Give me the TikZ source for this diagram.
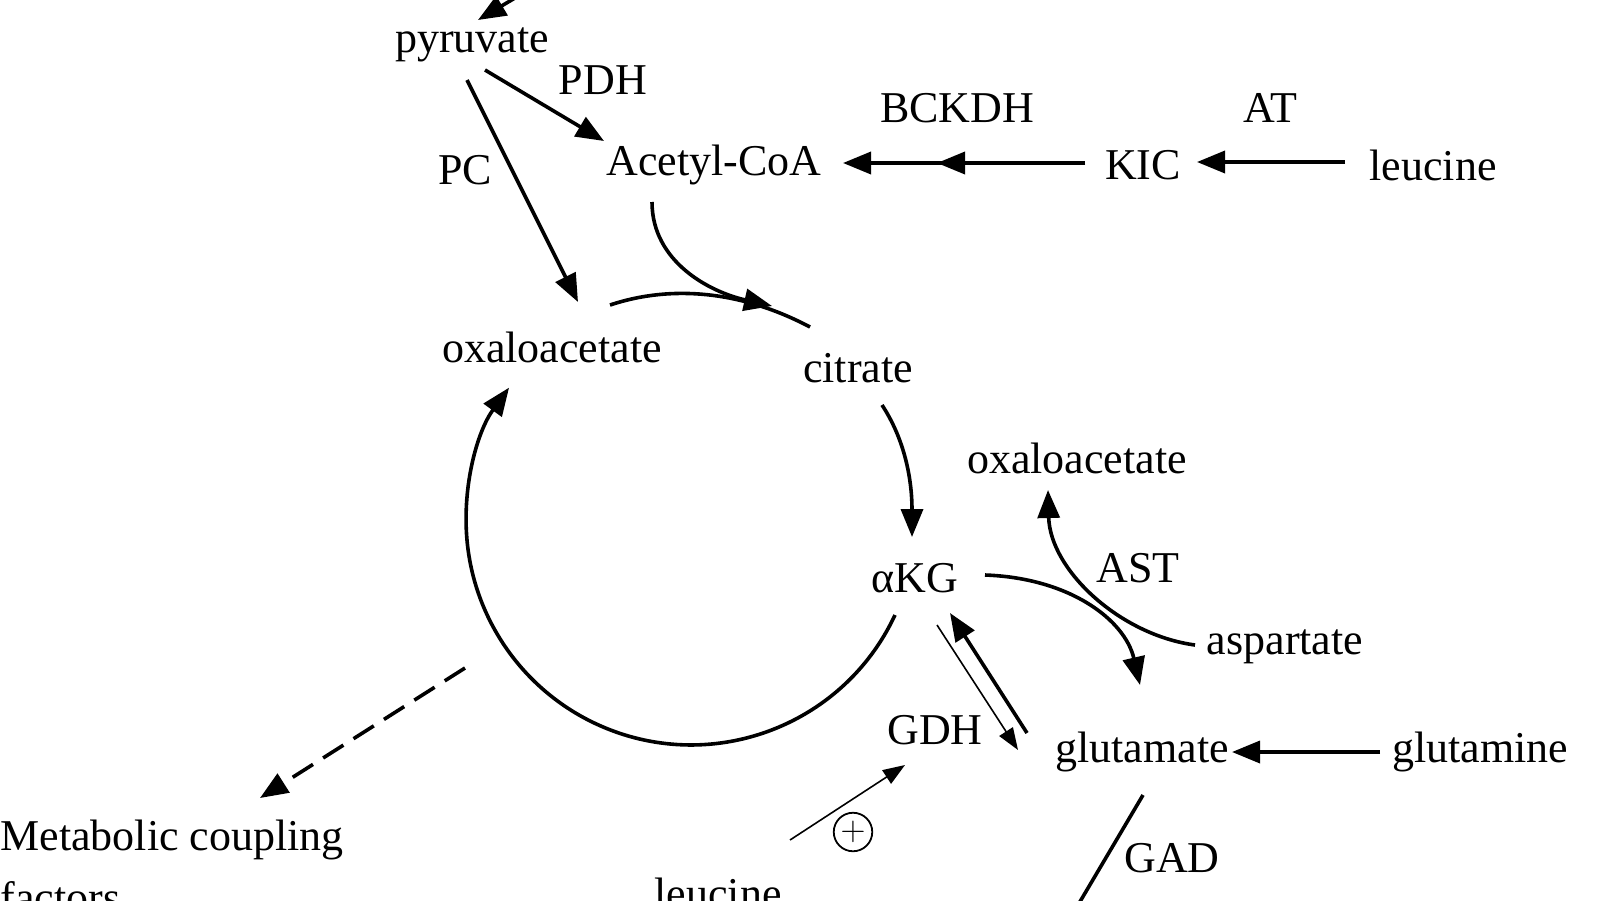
\documentclass[tikz,border=0pt]{standalone}
\usepackage{fontspec}
\setmainfont{Liberation Serif}
\usetikzlibrary{arrows.meta,decorations.markings}
\begin{document}
\begin{tikzpicture}[x=0.5pt,y=-0.5pt,
  lbl/.style={font=\fontsize{22}{26}\selectfont,inner sep=0pt},
  ar/.style={line width=1.8pt,-{Triangle[length=14pt,width=11pt]}},
  thin ar/.style={line width=0.8pt,-{Triangle[length=11pt,width=8pt]}}]
\useasboundingbox (0,0) rectangle (1600,900);
\clip (0,0) rectangle (1600,900);
\node[lbl] (pyr) at (472,45) {pyruvate};
\node[lbl] (pdh) at (603,80) {PDH};
\node[lbl] (pc) at (465,170) {PC};
\node[lbl] (acoa) at (714,165) {Acetyl-CoA};
\node[lbl] (bckdh) at (957,108) {BCKDH};
\node[lbl] (at) at (1270,108) {AT};
\node[lbl] (kic) at (1143,165) {KIC};
\node[lbl] (leu) at (1433,165) {leucine};
\node[lbl] (oaa) at (552,347) {oxaloacetate};
\node[lbl] (cit) at (858,368) {citrate};
\node[lbl] (oaa2) at (1077,458) {oxaloacetate};
\node[lbl] (ast) at (1138,568) {AST};
\node[lbl] (asp) at (1285,647) {aspartate};
\node[lbl] (akg) at (915,578) {αKG};
\node[lbl] (gdh) at (935,730) {GDH};
\node[lbl] (glu) at (1142,752) {glutamate};
\node[lbl] (gln) at (1480,752) {glutamine};
\node[lbl] (leu2) at (718,893) {leucine};
\node[lbl] (gad) at (1172,858) {GAD};
\node[lbl,anchor=west] (mcf) at (0,840) {Metabolic coupling};
\node[lbl,anchor=west] (fac) at (0,897) {factors};
\node[draw,circle,line width=0.9pt,inner sep=1pt,font=\fontsize{17}{17}\selectfont] (plus) at (853,832) {$+$};
\coordinate (t0) at (520,-5); \coordinate (t1) at (478,20);
\draw[ar] (t0) -- (t1);
\coordinate (p1) at (485,70); \coordinate (p2) at (604,141);
\draw[ar] (p1) -- (p2);
\coordinate (c1) at (467,80); \coordinate (c2) at (578,302);
\draw[ar] (c1) -- (c2);
\coordinate (k1) at (1085,163); \coordinate (km) at (937,163); \coordinate (k2) at (843,163);
\draw[ar] (k1) -- (k2);
\draw[ar] (k1) -- (km);
\coordinate (l1) at (1345,162); \coordinate (l2) at (1197,162);
\draw[ar] (l1) -- (l2);
\coordinate (a1) at (652,202); \coordinate (a2) at (772,306);
\draw[ar] (a1) .. controls (652,262) and (710,292) .. (a2);
\coordinate (o1) at (610,305); \coordinate (o2) at (810,327);
\draw[line width=1.8pt] (o1) .. controls (670,285) and (740,290) .. (o2);
\coordinate (ci1) at (882,405); \coordinate (ci2) at (912,537);
\draw[ar] (ci1) .. controls (905,440) and (912,480) .. (ci2);
\draw[ar] (895,615) arc[start angle=25,end angle=216,radius=225];
\coordinate (s1) at (1195,645); \coordinate (s2) at (1048,490);
\draw[ar] (s1) .. controls (1120,635) and (1050,570) .. (s2);
\coordinate (g1) at (985,575); \coordinate (g2) at (1140,685);
\draw[ar] (g1) .. controls (1070,578) and (1125,620) .. (g2);
\coordinate (d1) at (1027,733); \coordinate (d2) at (950,613);
\draw[ar] (d1) -- (d2);
\coordinate (e1) at (937,625); \coordinate (e2) at (1018,750);
\draw[thin ar] (e1) -- (e2);
\coordinate (n1) at (1380,752); \coordinate (n2) at (1232,752);
\draw[ar] (n1) -- (n2);
\coordinate (u1) at (790,840); \coordinate (u2) at (905,765);
\draw[thin ar] (u1) -- (u2);
\coordinate (z1) at (1143,795); \coordinate (z2) at (1078,905);
\draw[line width=1.8pt] (z1) -- (z2);
\coordinate (m1) at (465,668); \coordinate (m2) at (260,798);
\draw[ar,dash pattern=on 12pt off 6pt] (m1) -- (m2);
\end{tikzpicture}
\end{document}
